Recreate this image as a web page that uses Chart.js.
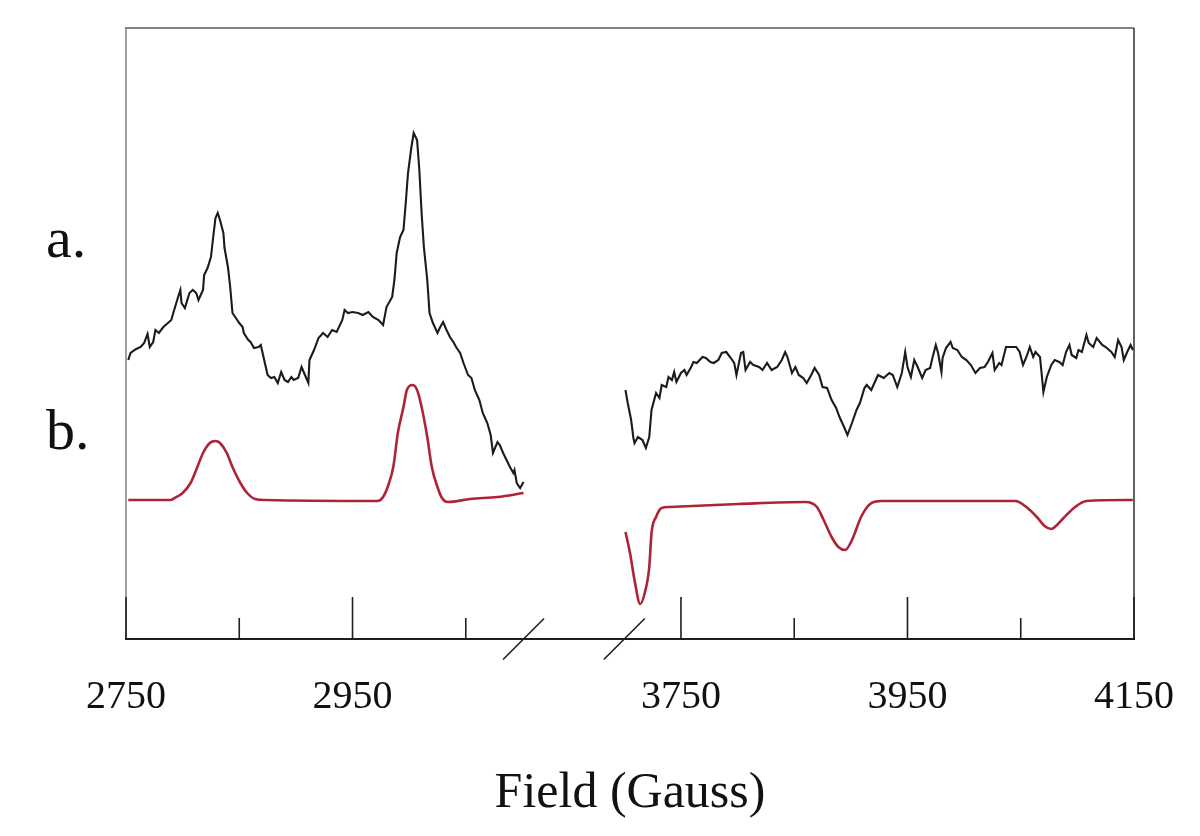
<!DOCTYPE html>
<html>
<head>
<meta charset="utf-8">
<script src="https://cdn.jsdelivr.net/npm/chart.js@4.4.0/dist/chart.umd.min.js"></script>
<style>
  html, body { margin: 0; padding: 0; background: #fff; }
  #wrap { width: 1200px; height: 836px; }
</style>
</head>
<body>
<div id="wrap"><canvas id="epr" width="1200" height="836"></canvas></div>
<script>
// spectrum a. (measured), low field sweep : field in Gauss, signal in arb. units (stacked offset)
var expLowField = [2752,2754,2759,2763,2766,2769,2771,2774,2776,2779,2783,2787,2790,2792,2796,2798,2799,2802,2806,2809,
  2812,2814,2818,2819,2822,2825,2827,2829,2831,2833,2836,2837,2840,2842,2844,2847,2850,2853,2854,2858,
  2860,2863,2867,2869,2872,2875,2878,2881,2884,2887,2890,2893,2896,2898,2902,2905,2908,2911,2912,2916,
  2920,2924,2928,2932,2936,2941,2943,2946,2950,2955,2959,2964,2968,2973,2977,2980,2985,2987,2989,2992,
  2995,2997,2999,3002,3004,3007,3009,3011,3013,3016,3018,3021,3025,3027,3030,3033,3036,3039,3042,3045,
  3048,3052,3055,3058,3062,3065,3069,3072,3074,3078,3080,3083,3086,3089,3092,3093,3095,3098,3101];
var expLowSignal = [140,147,151,153,157,166,153,158,170,167,173,177,180,188,203,210,197,192,207,210,
  207,200,210,225,232,243,263,282,287,280,267,252,233,213,187,182,177,173,167,160,
  158,152,153,155,140,125,122,123,117,128,120,118,123,120,122,133,125,117,140,150,
  162,167,163,170,168,180,190,187,188,187,185,188,183,180,175,193,203,220,247,263,
  270,297,327,353,367,360,330,287,253,220,187,177,167,172,178,170,163,158,152,147,
  137,125,122,110,100,87,77,65,47,58,55,47,40,33,27,30,17,12,18];

// spectrum a. (measured), high field sweep
var expHighField = [3701,3703,3706,3708,3709,3712,3716,3719,3722,3724,3728,3731,3733,3737,3739,3742,3744,3746,3750,3753,
  3755,3759,3761,3764,3769,3772,3776,3779,3783,3786,3790,3794,3797,3799,3803,3805,3807,3811,3814,3819,
  3822,3826,3830,3835,3839,3842,3844,3848,3851,3854,3858,3861,3865,3868,3872,3875,3879,3883,3887,3890,
  3894,3897,3901,3905,3908,3912,3914,3918,3920,3924,3929,3934,3937,3941,3945,3948,3950,3953,3956,3959,
  3963,3966,3970,3972,3975,3977,3980,3981,3984,3988,3990,3994,3998,4002,4006,4010,4014,4018,4021,4025,
  4027,4031,4033,4037,4041,4046,4049,4052,4055,4058,4061,4063,4067,4069,4070,4073,4077,4080,4084,4087,
  4090,4093,4095,4099,4101,4104,4108,4110,4114,4117,4122,4125,4130,4133,4136,4139,4141,4144,4147,4149];
var expHighSignal = [110,97,80,62,57,63,60,52,63,90,107,102,115,113,123,120,128,118,127,130,
  125,133,138,137,143,142,138,137,140,147,148,142,137,125,147,148,130,138,135,133,
  130,137,130,133,140,148,143,127,133,125,122,117,125,132,125,113,112,100,92,83,
  73,65,77,90,97,112,115,110,115,125,122,127,125,113,127,148,133,123,140,133,
  122,130,132,142,155,147,128,142,152,158,152,150,143,140,135,127,132,133,138,147,
  130,137,135,153,153,153,148,135,143,153,143,148,143,120,108,123,135,140,138,135,
  148,155,145,142,150,148,165,157,153,162,155,153,148,143,160,153,140,148,155,150];

// spectrum b. (simulation)
var simLowField = [2752,2789,2793,2800,2807,2813,2818,2824,2829,2833,2839,2844,2851,2857,2864,2873,
  2972,2977,2981,2986,2990,2995,2998,3003,3007,3011,3016,3020,3025,3029,3034,3054,3078,3101];
var simLowSignal = [0,0,2,7,17,33,47,57,59,57,47,33,17,7,1,0,
  -1,3,13,33,67,93,110,115,110,93,63,33,13,2,-2,1,3,7];
var simHighField = [3701,3705,3709,3714,3718,3722,3724,3728,3733,3740,3801,3860,3870,3876,3883,
  3889,3895,3901,3909,3917,3927,4045,4055,4065,4071,4077,4082,4087,4098,4108,4149];
var simHighSignal = [-32,-53,-80,-104,-93,-67,-33,-17,-8,-7,-4,-2,-7,-20,-37,
  -47,-50,-40,-17,-4,-1,-1,-7,-18,-26,-29,-25,-19,-7,-1,0];

var majorTicks = [2750, 2950, 3750, 3950, 4150];
var minorTicks = [2850, 3050, 3850, 4050];
var axisBreak = [3100, 3700];   // last field of low sweep, first of high sweep
var traceNames = ['a.', 'b.'];

var SERIF = '"Liberation Serif", "DejaVu Serif", serif';

// the axis is cut between the two sweeps: high field part is slid left
var SHIFT = 510;
function axisX(f) { return f >= 3400 ? f - SHIFT : f; }
function fieldOf(x) { return x > 3150 ? x + SHIFT : x; }

function seg(fields, signal, color, width, smooth) {
  return {
    data: fields.map(function (f, i) { return { x: axisX(f), y: signal[i] }; }),
    borderColor: color,
    borderWidth: width,
    pointRadius: 0,
    fill: false,
    tension: smooth ? 0.4 : 0,
    cubicInterpolationMode: smooth ? 'monotone' : 'default'
  };
}

var frame = {
  id: 'frame',
  beforeDatasetsDraw: function (chart) {
    var a = chart.chartArea, c = chart.ctx;
    c.save();
    c.lineWidth = 2;
    c.strokeStyle = '#a2a2a2';
    c.beginPath(); c.moveTo(a.left, a.bottom); c.lineTo(a.left, a.top); c.stroke();
    c.strokeStyle = '#858585';
    c.beginPath(); c.moveTo(a.left - 1, a.top); c.lineTo(a.right, a.top); c.stroke();
    c.strokeStyle = '#3a3a3a';
    c.lineWidth = 1.6;
    c.beginPath(); c.moveTo(a.right, a.top); c.lineTo(a.right, a.bottom); c.stroke();
    c.restore();
  },
  afterDatasetsDraw: function (chart) {
    var a = chart.chartArea, c = chart.ctx, xs = chart.scales.x;
    c.save();
    c.strokeStyle = '#1e1e1e';
    c.lineWidth = 2;
    c.beginPath(); c.moveTo(a.left - 1, a.bottom); c.lineTo(a.right + 1, a.bottom); c.stroke();
    // ticks point up into the plot
    c.lineWidth = 1.6;
    xs.ticks.forEach(function (t) {
      var px = xs.getPixelForValue(t.value);
      var len = majorTicks.indexOf(fieldOf(t.value)) >= 0 ? 42 : 21;
      c.beginPath(); c.moveTo(px, a.bottom); c.lineTo(px, a.bottom - len); c.stroke();
    });
    // break marks
    c.lineWidth = 1.6;
    [axisX(axisBreak[0]) + 1, axisX(axisBreak[1])].forEach(function (v) {
      var px = xs.getPixelForValue(v);
      c.beginPath(); c.moveTo(px - 20.5, a.bottom + 20.5); c.lineTo(px + 20.5, a.bottom - 20.5); c.stroke();
    });
    // trace names
    c.fillStyle = '#111';
    c.font = '58px ' + SERIF;
    c.textAlign = 'left';
    c.textBaseline = 'alphabetic';
    c.fillText(traceNames[0], 46, 257);
    c.fillText(traceNames[1], 46, 449);
    c.restore();
  }
};

var allTicks = majorTicks.concat(minorTicks).sort(function (p, q) { return p - q; });

var chart = new Chart(document.getElementById('epr').getContext('2d'), {
  type: 'line',
  data: {
    datasets: [
      seg(expLowField, expLowSignal, '#1b1b1b', 2.1, false),
      seg(expHighField, expHighSignal, '#1b1b1b', 2.1, false),
      seg(simLowField, simLowSignal, '#ad2436', 2.6, true),
      seg(simHighField, simHighSignal, '#ad2436', 2.6, true)
    ]
  },
  options: {
    responsive: false,
    animation: false,
    devicePixelRatio: 1,
    layout: { padding: { left: 126, right: 66, top: 28, bottom: 0 } },
    plugins: { legend: { display: false }, tooltip: { enabled: false } },
    scales: {
      x: {
        type: 'linear',
        min: axisX(majorTicks[0]),
        max: axisX(majorTicks[majorTicks.length - 1]),
        grid: { display: false, drawTicks: false },
        border: { display: false },
        afterBuildTicks: function (scale) {
          scale.ticks = allTicks.map(function (f) { return { value: axisX(f) }; });
        },
        afterFit: function (scale) {
          scale.height = 197;
          scale.paddingLeft = 0;
          scale.paddingRight = 0;
        },
        ticks: {
          autoSkip: false,
          maxRotation: 0,
          padding: 34,
          color: '#111',
          font: { family: SERIF, size: 40 },
          callback: function (v) {
            var f = Math.round(fieldOf(v));
            return majorTicks.indexOf(f) >= 0 ? String(f) : '';
          }
        },
        title: {
          display: true,
          text: 'Field (Gauss)',
          color: '#111',
          font: { family: SERIF, size: 50 },
          padding: { top: 0, bottom: 12 }
        }
      },
      y: { display: false, min: -139, max: 472 }
    }
  },
  plugins: [frame]
});
</script>
</body>
</html>
